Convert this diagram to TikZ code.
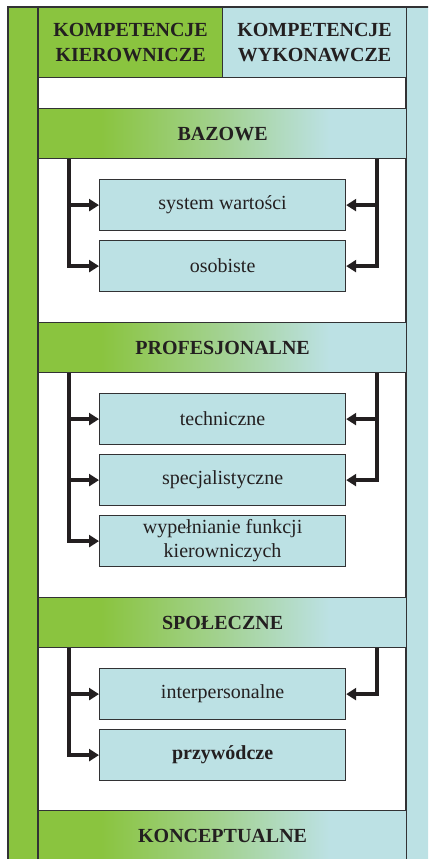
\documentclass[tikz,border=0pt]{standalone}
\usepackage{fontspec}
\setmainfont{Liberation Serif}
\usetikzlibrary{arrows.meta}

\definecolor{kgreen}{RGB}{138,196,63}
\definecolor{kblue}{RGB}{188,225,228}
\definecolor{kmid}{RGB}{163,210,146}
\definecolor{kline}{RGB}{50,50,52}
\definecolor{kink}{RGB}{35,31,32}

% green on the left, light blue on the right, blend in between
\pgfdeclarehorizontalshading{bandshade}{100bp}{%
  color(0bp)=(kgreen); color(33.5bp)=(kgreen); color(50bp)=(kmid);
  color(64.5bp)=(kblue); color(100bp)=(kblue)}

\tikzset{
  txt/.style={font=\fontsize{20bp}{25bp}\selectfont, text=kink},
  frame/.style={draw=kline, line width=1.2bp},
  hdr/.style={txt, frame, font=\fontsize{20bp}{25.5bp}\selectfont\bfseries,
    align=center, anchor=north west, minimum width=184bp, minimum height=70bp,
    inner sep=0pt},
  band/.style={txt, frame, shading=bandshade, font=\fontsize{20bp}{25bp}\selectfont\bfseries,
    anchor=north west, minimum width=368bp, minimum height=50bp, inner sep=0pt},
  item/.style={txt, frame, fill=kblue, align=center, anchor=north west,
    minimum width=246bp, minimum height=51bp, inner sep=0pt},
  conn/.style={draw=kink, line width=4bp, line join=miter,
    -{Triangle[length=10bp,width=12bp]}},
}

\begin{document}
\begin{tikzpicture}[x=1bp, y=-1bp]
\useasboundingbox (0,0) rectangle (428,859);
\clip (0,0) rectangle (428,859);

% side columns and the white middle
\fill[white] (0,0) rectangle (428,859);
\draw[frame, fill=kgreen] (8,7) rectangle (38,880);
\draw[frame, fill=kblue] (406,7) rectangle (450,880);
\draw[frame, fill=white] (38,7) rectangle (406,880);

% column headers
\node[hdr, fill=kgreen] (hk) at (38,7) {KOMPETENCJE\\KIEROWNICZE};
\node[hdr, fill=kblue] (hw) at (222,7) {KOMPETENCJE\\WYKONAWCZE};

% BAZOWE
\node[band] (baz) at (38,108) {BAZOWE};
\node[item] (sw) at (99,179) {system wartości};
\node[item] (os) at (99,240) {osobiste};
\draw[conn] ([xshift=31bp]baz.south west) |- (sw.west);
\draw[conn] ([xshift=31bp]baz.south west) |- (os.west);
\draw[conn] ([xshift=-30bp]baz.south east) |- (sw.east);
\draw[conn] ([xshift=-30bp]baz.south east) |- (os.east);

% PROFESJONALNE
\node[band] (prof) at (38,322) {PROFESJONALNE};
\node[item] (tech) at (99,393) {techniczne};
\node[item] (spec) at (99,454) {specjalistyczne};
\node[item, font=\fontsize{20bp}{24bp}\selectfont] (wyp) at (99,515) {wypełnianie funkcji\\kierowniczych};
\draw[conn] ([xshift=31bp]prof.south west) |- (tech.west);
\draw[conn] ([xshift=31bp]prof.south west) |- (spec.west);
\draw[conn] ([xshift=31bp]prof.south west) |- (wyp.west);
\draw[conn] ([xshift=-30bp]prof.south east) |- (tech.east);
\draw[conn] ([xshift=-30bp]prof.south east) |- (spec.east);

% SPOŁECZNE
\node[band] (spol) at (38,597) {SPOŁECZNE};
\node[item] (inter) at (99,668) {interpersonalne};
\node[item, font=\fontsize{20bp}{25bp}\selectfont\bfseries] (przy) at (99,729) {przywódcze};
\draw[conn] ([xshift=31bp]spol.south west) |- (inter.west);
\draw[conn] ([xshift=31bp]spol.south west) |- (przy.west);
\draw[conn] ([xshift=-30bp]spol.south east) |- (inter.east);

% KONCEPTUALNE
\node[band] (konc) at (38,810) {KONCEPTUALNE};
\end{tikzpicture}
\end{document}
